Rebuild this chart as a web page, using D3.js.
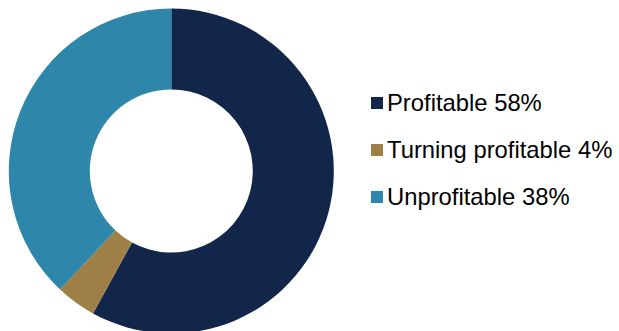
<!DOCTYPE html>
<html>
<head>
<meta charset="utf-8">
<script src="https://cdn.jsdelivr.net/npm/d3@7/dist/d3.min.js"></script>
<style>
  html, body { margin: 0; padding: 0; background: #fff; }
  svg { display: block; }
</style>
</head>
<body>
<svg id="chart" width="619" height="331"></svg>
<script>
// Share of companies by profitability status
const categories = ["Profitable", "Turning profitable", "Unprofitable"];
const values = [58, 4, 38];
const colors = ["#12264a", "#9e7f45", "#2e86aa"];

const svg = d3.select("#chart");
const cx = 171.3, cy = 171, outerR = 162.5, innerR = 81.5;

const pie = d3.pie().sort(null).value(d => d.value);
const arc = d3.arc().innerRadius(innerR).outerRadius(outerR);
const data = categories.map((c, i) => ({ name: c, value: values[i], color: colors[i] }));

svg.append("g")
  .attr("transform", `translate(${cx},${cy})`)
  .selectAll("path")
  .data(pie(data))
  .join("path")
  .attr("d", arc)
  .attr("fill", d => d.data.color);

// Legend
const legendY = d3.scalePoint().domain(categories).range([103, 197]);
const legend = svg.append("g")
  .selectAll("g")
  .data(data)
  .join("g")
  .attr("transform", d => `translate(371,${legendY(d.name)})`);

legend.append("rect")
  .attr("x", 0).attr("y", -6)
  .attr("width", 12).attr("height", 12)
  .attr("fill", d => d.color);

legend.append("text")
  .attr("x", 16).attr("y", 8)
  .attr("font-family", "Liberation Sans, Arial, sans-serif")
  .attr("font-size", 23.8)
  .attr("fill", "#000")
  .text(d => `${d.name} ${d.value}%`);
</script>
</body>
</html>
